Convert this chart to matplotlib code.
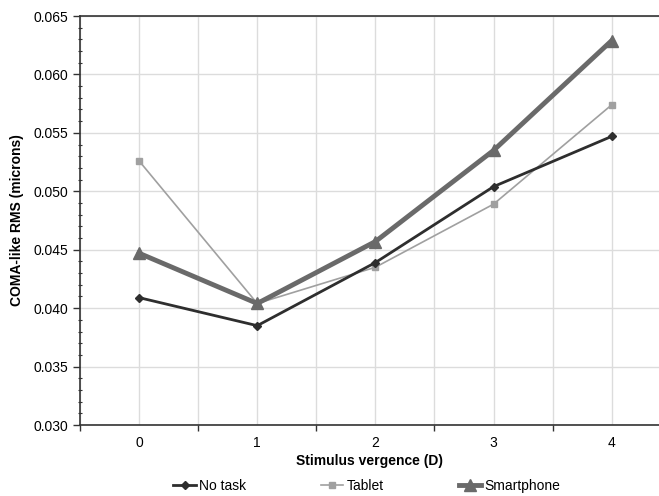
import numpy as np
import matplotlib
matplotlib.use('Agg')
import matplotlib.pyplot as plt
from matplotlib.ticker import MultipleLocator

plt.rcParams['font.family'] = ['Liberation Sans', 'DejaVu Sans']

vergence = [0, 1, 2, 3, 4]
no_task = [0.0409, 0.0385, 0.0439, 0.0504, 0.0547]
tablet = [0.0526, 0.0404, 0.0435, 0.0489, 0.0574]
smartphone = [0.0447, 0.0404, 0.0457, 0.0535, 0.0629]

fig = plt.figure(figsize=(6.59, 4.96), dpi=100)
ax = fig.add_axes([80 / 659, 1 - 425 / 496, 579 / 659, 409 / 496])

x = np.arange(len(vergence))
ax.plot(x, tablet, color='#a0a0a0', lw=1.2, marker='s', ms=4, label='Tablet', zorder=3)
ax.plot(x, no_task, color='#2e2e2e', lw=2, marker='D', ms=4.5, label='No task', zorder=4)
ax.plot(x, smartphone, color='#6a6a6a', lw=3.5, marker='^', ms=8, label='Smartphone', zorder=5)

ax.set_xlim(-0.5, 4.4)
ax.set_ylim(0.030, 0.065)
ax.set_xticks(x)
ax.set_xticklabels([str(v) for v in vergence])
ax.xaxis.set_minor_locator(MultipleLocator(0.5))
ax.tick_params(axis='x', which='major', length=0, pad=8, labelsize=10)
ax.tick_params(axis='x', which='minor', length=4, direction='out', width=1, color='#333333')
ax.yaxis.set_major_locator(MultipleLocator(0.005))
ax.yaxis.set_minor_locator(MultipleLocator(0.001))
ax.yaxis.set_major_formatter(matplotlib.ticker.FormatStrFormatter('%.3f'))
ax.tick_params(axis='y', which='major', length=5, direction='out', width=1, labelsize=10, color='#333333')
ax.tick_params(axis='y', which='minor', length=3, direction='inout', width=0.8, color='#333333')

ax.grid(True, which='major', axis='y', color='#dcdcdc', lw=1)
ax.grid(True, which='both', axis='x', color='#dcdcdc', lw=1)
ax.set_axisbelow(True)

for s in ['left', 'bottom', 'top']:
    ax.spines[s].set_color('#333333')
    ax.spines[s].set_linewidth(1.2)
ax.spines['right'].set_visible(False)

ax.set_xlabel('Stimulus vergence (D)', fontsize=10, fontweight='bold', labelpad=3)
ax.set_ylabel('COMA-like RMS (microns)', fontsize=10, fontweight='bold', labelpad=7)

handles, labels = ax.get_legend_handles_labels()
order = [1, 0, 2]
fig.legend([handles[i] for i in order], [labels[i] for i in order],
           loc='center', bbox_to_anchor=(367 / 659, 1 - 486 / 496), ncol=3,
           frameon=False, fontsize=10, columnspacing=5.4, handlelength=1.6, handletextpad=0.25,
           borderpad=0.1)

fig.savefig('out.png', dpi=100)
